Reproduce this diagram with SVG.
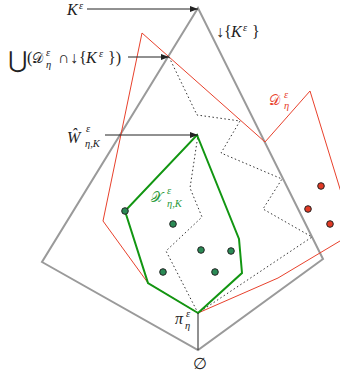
<svg xmlns="http://www.w3.org/2000/svg" width="340" height="380" viewBox="0 0 340 380">
<style>
.t{font-family:"Liberation Serif","DejaVu Serif",serif;font-size:16px;fill:#222}
.i{font-style:italic}
.s{font-size:10.5px;font-style:italic}
.c{font-family:"DejaVu Serif","DejaVu Sans","Liberation Serif",serif;font-style:normal;font-size:14px}
.gray{fill:none;stroke:#9a9a9a;stroke-width:2;stroke-linejoin:miter}
.red{fill:none;stroke:#e8412c;stroke-width:1}
.green{fill:none;stroke:#129612;stroke-width:2;stroke-linejoin:miter}
.dot{fill:none;stroke:#333;stroke-width:1;stroke-dasharray:1.5 2.5}
.arr{stroke:#222;stroke-width:1;fill:none}
.gd{fill:#2a8a55;stroke:#222;stroke-width:1}
.rd{fill:#e23a25;stroke:#222;stroke-width:1}
</style>
<defs>
<marker id="ah" viewBox="0 0 8 6" refX="8" refY="3" markerWidth="8" markerHeight="6" orient="auto" markerUnits="userSpaceOnUse">
<path d="M0,0 L8,3 L0,6 Z" fill="#222"/>
</marker>
</defs>
<g id="lattice">
<polygon class="gray" points="198,8 42,262 198,350 323,259"/>
</g>
<g id="D-eta">
<polygon class="red" points="198,313 148,283 103,221 142,33 265,142 310,91 348,215 345,238 278,278"/>
</g>
<g id="dotted-region">
<polyline class="dot" points="169,57 197,115 240,121 221,153 282,179 263,209 312,237 198,313 166,251 202,217 190,188 198,135"/>
</g>
<g id="X-eta-K">
<polygon class="green" points="198,313 148,283 125,211 197,135 239,239 242,273"/>
</g>
<g id="green-points">
<circle class="gd" cx="125" cy="211" r="3.3"/>
<circle class="gd" cx="173" cy="224" r="3.3"/>
<circle class="gd" cx="201" cy="250" r="3.3"/>
<circle class="gd" cx="231" cy="251" r="3.3"/>
<circle class="gd" cx="163" cy="272" r="3.3"/>
<circle class="gd" cx="215" cy="272" r="3.3"/>
</g>
<g id="red-points">
<circle class="rd" cx="321" cy="186" r="3.3"/>
<circle class="rd" cx="308" cy="209" r="3.3"/>
<circle class="rd" cx="330" cy="224" r="3.3"/>
</g>
<g id="connectors">
<line class="arr" x1="87" y1="9" x2="198" y2="9" marker-end="url(#ah)"/>
<line class="arr" x1="128" y1="57" x2="169" y2="57" marker-end="url(#ah)"/>
<line class="arr" x1="105" y1="135" x2="198" y2="135" marker-end="url(#ah)"/>
<line class="arr" x1="198" y1="313" x2="198" y2="350"/>
</g>
<g id="label-K">
<text class="t" x="67" y="15"><tspan class="i">K</tspan><tspan class="s" x="79" y="9">ε</tspan></text>
</g>
<g id="label-union">
<text class="t" x="8" y="68"><tspan style="font-family:'DejaVu Sans',sans-serif;font-size:23px">⋃</tspan><tspan x="27" y="63">(</tspan><tspan class="c" x="32" y="63">𝒟</tspan><tspan class="s" x="46" y="56">ε</tspan><tspan class="s" x="46" y="68">η</tspan><tspan x="58" y="63">∩</tspan><tspan x="70" y="63">↓</tspan><tspan x="79" y="63">{</tspan><tspan class="i" x="86" y="63">K</tspan><tspan class="s" x="99" y="57">ε</tspan><tspan x="108" y="63">})</tspan></text>
</g>
<g id="label-down">
<text class="t" x="216" y="37">↓<tspan x="224">{</tspan><tspan class="i" x="231">K</tspan><tspan class="s" x="243" y="31">ε</tspan><tspan x="252" y="37">}</tspan></text>
</g>
<g id="label-D">
<text class="t" x="269" y="105" style="fill:#e8412c"><tspan class="c">𝒟</tspan><tspan class="s" x="284" y="98">ε</tspan><tspan class="s" x="284" y="109">η</tspan></text>
</g>
<g id="label-W">
<text class="t" x="67" y="143"><tspan class="i">Ŵ</tspan><tspan class="s" x="86" y="132">ε</tspan><tspan class="s" x="85" y="147">η,K</tspan></text>
</g>
<g id="label-X">
<text class="t" x="151" y="202" style="fill:#2a9a3a"><tspan class="c">𝒳</tspan><tspan class="s" x="167" y="194">ε</tspan><tspan class="s" x="167" y="207">η,K</tspan></text>
</g>
<g id="label-pi">
<text class="t" x="175" y="324"><tspan class="i">π</tspan><tspan class="s" x="186" y="317">ε</tspan><tspan class="s" x="185" y="329">η</tspan></text>
</g>
<g id="label-empty">
<text class="t" x="193" y="369">∅</text>
</g>
</svg>
